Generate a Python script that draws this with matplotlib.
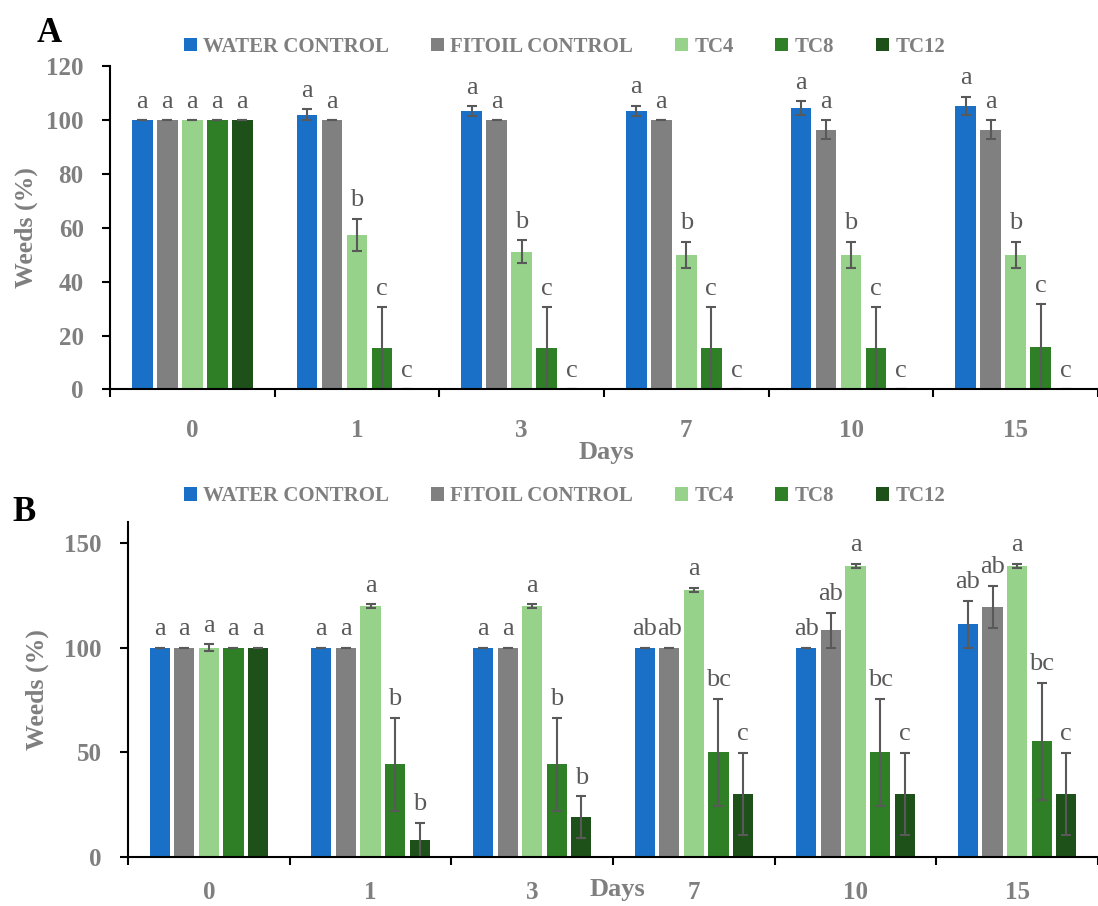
import numpy as np
import matplotlib.pyplot as plt
from matplotlib.patches import Patch

# =====================
# 字体
# =====================

plt.rcParams['font.family'] = 'serif'
plt.rcParams['font.serif'] = ['Liberation Serif', 'DejaVu Serif']

# =====================
# 数据
# =====================

days = ['0', '1', '3', '7', '10', '15']
groups = ['WATER CONTROL', 'FITOIL CONTROL', 'TC4', 'TC8', 'TC12']
colors = ['#1A70C6', '#808080', '#96D28A', '#2F7F27', '#1E5119']

# A
a_water = [100, 102, 103.4, 103.5, 104.5, 105.3]
a_water_err = [0, 2, 1.8, 1.8, 2.5, 3.3]
a_fitoil = [100, 100, 100, 100, 96.5, 96.5]
a_fitoil_err = [0, 0, 0, 0, 3.5, 3.5]
a_tc4 = [100, 57.3, 51.2, 50, 50, 50]
a_tc4_err = [0, 6, 4.2, 4.9, 4.9, 4.9]
a_tc8 = [100, 15.2, 15.2, 15.2, 15.2, 15.8]
a_tc8_err = [0, 15.3, 15.3, 15.3, 15.3, 15.9]
a_tc12 = [100, 0, 0, 0, 0, 0]
a_tc12_err = [0, 0, 0, 0, 0, 0]

a_letters = [
    ['a', 'a', 'a', 'a', 'a', 'a'],
    ['a', 'a', 'a', 'a', 'a', 'a'],
    ['a', 'b', 'b', 'b', 'b', 'b'],
    ['a', 'c', 'c', 'c', 'c', 'c'],
    ['a', 'c', 'c', 'c', 'c', 'c'],
]

# B
b_water = [100, 100, 100, 100, 100, 111.1]
b_water_err = [0, 0, 0, 0, 0, 11.1]
b_fitoil = [100, 100, 100, 100, 108.2, 119.5]
b_fitoil_err = [0, 0, 0, 0, 8.4, 10]
b_tc4 = [100, 119.7, 119.7, 127.6, 138.9, 138.9]
b_tc4_err = [1.5, 1, 1, 1, 1, 1]
b_tc8 = [100, 44.3, 44.3, 50, 50, 55.4]
b_tc8_err = [0, 22.2, 22.2, 25.5, 25.5, 27.9]
b_tc12 = [100, 8.1, 19.3, 30.3, 30.3, 30.3]
b_tc12_err = [0, 8.4, 9.9, 19.5, 19.5, 19.5]

b_letters = [
    ['a', 'a', 'a', 'ab', 'ab', 'ab'],
    ['a', 'a', 'a', 'ab', 'ab', 'ab'],
    ['a', 'a', 'a', 'a', 'a', 'a'],
    ['a', 'b', 'b', 'bc', 'bc', 'bc'],
    ['a', 'b', 'b', 'c', 'c', 'c'],
]

# =====================
# 画布
# =====================

fig = plt.figure(figsize=(10.98, 9.06), dpi=100)

ax_a = fig.add_axes([0.1002, 0.5702, 0.8998, 0.3567])
ax_b = fig.add_axes([0.1166, 0.0538, 0.8834, 0.3704])

tick_grey = '#7F7F7F'
text_grey = '#595959'


def draw_panel(ax, series, errors, letters, ymax, ystep, xright, xpad):
    x = np.arange(len(days))
    for i in range(len(groups)):
        pos = x + (i - 2) * 0.152
        ax.bar(
            pos, series[i],
            width=0.125,
            color=colors[i],
            yerr=errors[i],
            error_kw=dict(ecolor=text_grey, elinewidth=1.5,
                          capsize=3.6, capthick=1.5),
            zorder=2
        )
        for xp, v, e, t in zip(pos, series[i], errors[i], letters[i]):
            ax.annotate(
                t, (xp, v + e),
                xytext=(0, 9), textcoords='offset points',
                ha='center', va='baseline',
                fontsize=19, color=text_grey
            )

    ax.set_ylim(0, ymax)
    ax.set_xlim(-0.5, xright)
    ax.set_yticks(np.arange(0, ymax + 1, ystep))

    # 类别分隔刻度 + 居中标签
    ax.set_xticks(np.arange(-0.5, len(days), 1))
    ax.set_xticklabels([])
    ax.set_xticks(x, minor=True)
    ax.set_xticklabels(days, minor=True)

    ax.spines['top'].set_visible(False)
    ax.spines['right'].set_visible(False)
    ax.spines['left'].set_linewidth(1.5)
    ax.spines['bottom'].set_linewidth(1.5)

    ax.tick_params(axis='y', length=6, width=1.5, pad=13,
                   labelsize=18, labelcolor=tick_grey)
    ax.tick_params(axis='x', which='major', length=6, width=1.5)
    ax.tick_params(axis='x', which='minor', length=0, pad=xpad,
                   labelsize=18, labelcolor=tick_grey)
    for lab in ax.get_yticklabels() + ax.get_xticklabels(minor=True):
        lab.set_fontweight('bold')


draw_panel(
    ax_a,
    [a_water, a_fitoil, a_tc4, a_tc8, a_tc12],
    [a_water_err, a_fitoil_err, a_tc4_err, a_tc8_err, a_tc12_err],
    a_letters, 120, 20, 5.473, 21
)

draw_panel(
    ax_b,
    [b_water, b_fitoil, b_tc4, b_tc8, b_tc12],
    [b_water_err, b_fitoil_err, b_tc4_err, b_tc8_err, b_tc12_err],
    b_letters, 160, 50, 5.451, 17
)

# =====================
# 坐标轴标题
# =====================

for xc, yc in [(0.0237, 0.7486), (0.0337, 0.2390)]:
    fig.text(xc, yc, 'Weeds (%)', rotation=90, ha='center', va='center',
             fontsize=18.5, fontweight='bold', color=tick_grey)

fig.text(0.5519, 0.4934, 'Days', ha='center', va='baseline',
         fontsize=19, fontweight='bold', color=tick_grey)
fig.text(0.5620, 0.0110, 'Days', ha='center', va='baseline',
         fontsize=19, fontweight='bold', color=tick_grey)

# 面板编号
fig.text(0.0335, 0.9533, 'A', fontsize=25, fontweight='bold', color='black')
fig.text(0.0112, 0.4249, 'B', fontsize=25, fontweight='bold', color='black')

# =====================
# 图例
# =====================

handles = [Patch(facecolor=c, edgecolor='none') for c in colors]
for yc in [0.9485, 0.4525]:
    fig.legend(
        handles, groups,
        loc='center', bbox_to_anchor=(0.514, yc),
        ncol=5, frameon=False,
        prop=dict(size=15, weight='bold'),
        labelcolor=tick_grey,
        handlelength=0.63, handleheight=0.63,
        handletextpad=0.3, columnspacing=2.0,
        borderaxespad=0, borderpad=0
    )

fig.savefig('out.png', dpi=100)
